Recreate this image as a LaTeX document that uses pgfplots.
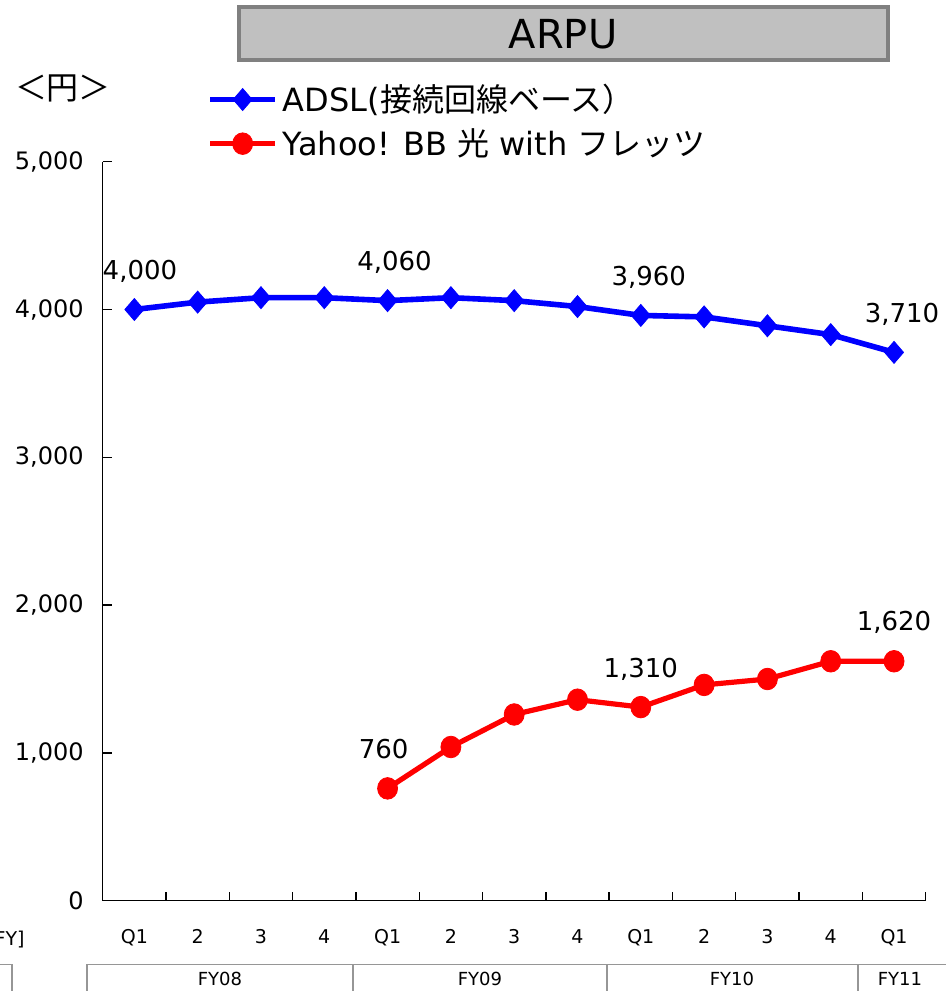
\documentclass[border=0pt]{standalone}
\usepackage{fontspec}
\setmainfont{DejaVu Sans}
\newfontfamily\jp{Noto Sans CJK JP}
\usepackage{pgfplots}
\pgfplotsset{compat=1.18}

\definecolor{adsl}{RGB}{0,0,255}
\definecolor{hikari}{RGB}{255,0,0}
\definecolor{boxfill}{RGB}{192,192,192}
\definecolor{boxedge}{RGB}{128,128,128}
\definecolor{rowline}{RGB}{150,150,150}

\begin{document}
\begin{tikzpicture}
% page = 946 x 991 px, 1px = 0.5pt, origin top left
\path[use as bounding box] (0,0) rectangle (473pt,-495.5pt);

\begin{axis}[
  at={(51.35pt,-450.35pt)}, anchor=south west,
  scale only axis, width=411.5pt, height=369.5pt,
  xmin=-0.5, xmax=12.5, ymin=0, ymax=5000,
  axis lines*=left,
  axis line style={line width=0.7pt, black},
  tick align=inside, major tick length=4.5pt,
  tick style={line width=0.7pt, black},
  xtick={-0.5,0.5,1.5,2.5,3.5,4.5,5.5,6.5,7.5,8.5,9.5,10.5,11.5,12.5},
  x tick label as interval,
  xticklabels={Q1,2,3,4,Q1,2,3,4,Q1,2,3,4,Q1},
  xticklabel style={font=\fontsize{9.5}{11}\selectfont, yshift=-11pt},
  ytick={0,1000,2000,3000,4000,5000},
  yticklabel style={font=\fontsize{12}{14}\selectfont, xshift=-6pt},
  /pgf/number format/.cd, 1000 sep={,}, assume math mode=true,
  /pgfplots/.cd,
  clip=false,
  legend style={at={(0.1267,1.112)}, anchor=north west, draw=none, fill=none,
    inner sep=0pt, font=\fontsize{16}{18}\selectfont, row sep=2pt,
    nodes={inner sep=2.5pt}},
  legend cell align=left,
  legend image code/.code={
    \draw[mark repeat=2, mark phase=2, #1]
      plot coordinates {(0pt,0pt) (16.25pt,0pt) (32.5pt,0pt)};},
]
\addplot[adsl, line width=2.8pt, mark=diamond*, mark size=5.5pt,
  mark options={solid, line width=0.4pt, xscale=1.15}] coordinates {
  (0,4000) (1,4050) (2,4080) (3,4080) (4,4060) (5,4080) (6,4060)
  (7,4020) (8,3960) (9,3950) (10,3890) (11,3830) (12,3710)
};
\addlegendentry{ADSL({\jp 接続回線ベース）}}
\addplot[hikari, line width=2.6pt, mark=*, mark size=5pt,
  mark options={solid, line width=0.4pt, yscale=1.08}] coordinates {
  (4,760) (5,1040) (6,1260) (7,1360) (8,1310) (9,1460) (10,1500)
  (11,1620) (12,1620)
};
\addlegendentry{Yahoo! BB {\jp 光} with {\jp フレッツ}}

\begin{scope}[every node/.style={font=\fontsize{13}{15}\selectfont}]
\node at (axis cs:0,4000) [xshift=2.8pt, yshift=19pt] {4,000};
\node at (axis cs:4,4060) [xshift=3.5pt, yshift=19pt] {4,060};
\node at (axis cs:8,3960) [xshift=4pt, yshift=19pt] {3,960};
\node at (axis cs:12,3710) [xshift=4pt, yshift=19pt] {3,710};
\node at (axis cs:4,760) [xshift=-2pt, yshift=19.5pt] {760};
\node at (axis cs:8,1310) [yshift=19pt] {1,310};
\node at (axis cs:12,1620) [yshift=19.5pt] {1,620};
\end{scope}
\end{axis}

\begin{scope}[x=0.5pt, y=-0.5pt]
% title box
\draw[line width=2pt, draw=boxedge, fill=boxfill] (239,7) rectangle (888,60);
\node[font=\fontsize{20}{22}\selectfont] at (563,34) {ARPU};
% unit
\node[font=\fontsize{16}{18}\selectfont\jp] at (63,88) {＜円＞};
% fiscal year row
\node[font=\fontsize{9.5}{11}\selectfont, anchor=east, inner sep=0pt] at (25,940) {[FY]};
\draw[rowline, line width=0.75pt] (0,964.5) -- (12,964.5) -- (12,995);
\draw[rowline, line width=0.75pt] (87,995) -- (87,964.5) -- (950,964.5);
\draw[rowline, line width=0.75pt] (353,964.5) -- (353,995);
\draw[rowline, line width=0.75pt] (607,964.5) -- (607,995);
\draw[rowline, line width=0.75pt] (858,964.5) -- (858,995);
\begin{scope}[every node/.style={font=\fontsize{9}{10}\selectfont}]
\node at (220,979) {FY08};
\node at (480,979) {FY09};
\node at (732,979) {FY10};
\node at (900,979) {FY11};
\end{scope}
\end{scope}
\end{tikzpicture}
\end{document}
